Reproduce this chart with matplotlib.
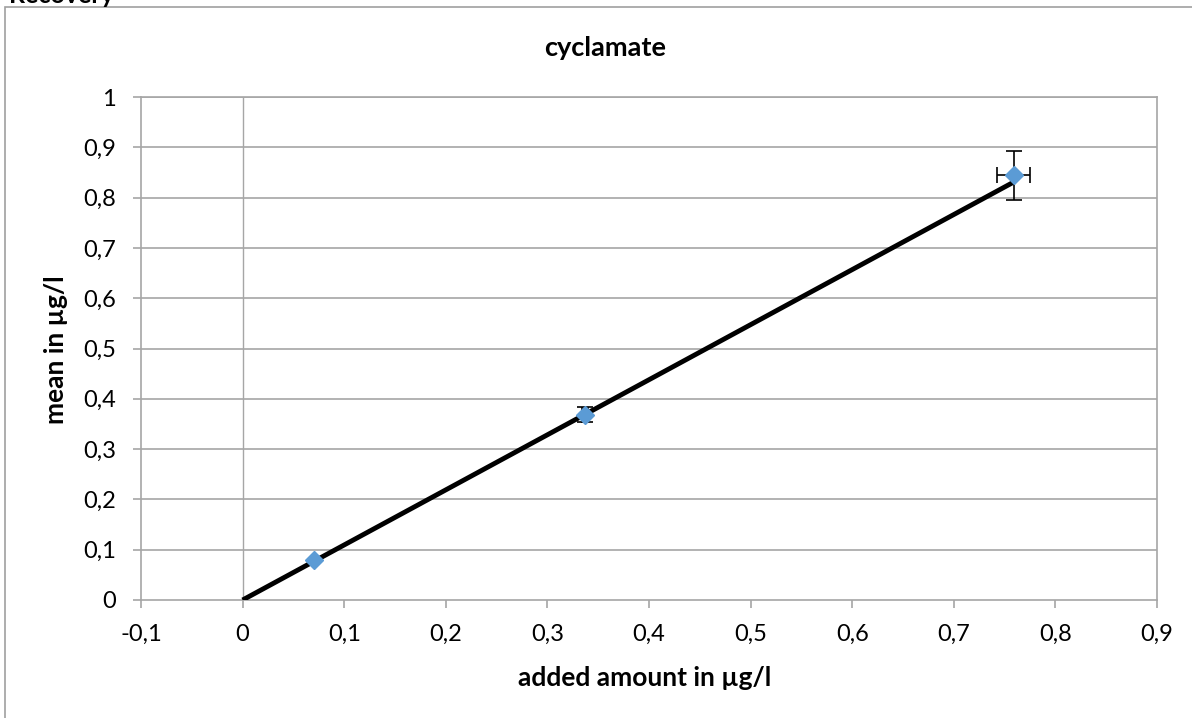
import matplotlib
matplotlib.use("Agg")
import matplotlib.pyplot as plt
from matplotlib.patches import Rectangle

plt.rcParams['font.family'] = ['Lato', 'DejaVu Sans']

# Data
added = [0.07, 0.337, 0.759]
mean = [0.079, 0.368, 0.844]
xerr = [0.0, 0.003, 0.016]
yerr = [0.0, 0.015, 0.048]
fit_x = [0.0, 0.76]
fit_y = [0.0, 0.832]
xticks = [-0.1, 0, 0.1, 0.2, 0.3, 0.4, 0.5, 0.6, 0.7, 0.8, 0.9]
yticks = [0, 0.1, 0.2, 0.3, 0.4, 0.5, 0.6, 0.7, 0.8, 0.9, 1]

def fmt(v):
    return ('%g' % v).replace('.', ',')

W, H = 1192, 718
fig = plt.figure(figsize=(W / 100, H / 100), dpi=100)

# outer chart border
fig.patches.append(Rectangle((5 / W, -0.1), 1.2, (H - 7) / H + 0.1, transform=fig.transFigure,
                             fill=False, edgecolor='#a0a0a0', linewidth=1.2))
fig.text(9 / W, 1 - 3 / H, 'Recovery', fontsize=18, fontweight='bold', va='baseline', ha='left')

ax = fig.add_axes([141 / W, (H - 600) / H, (1157 - 141) / W, (600 - 97) / H])
ax.set_xlim(-0.1, 0.9)
ax.set_ylim(0, 1)
ax.set_xticks(xticks)
ax.set_yticks(yticks)
ax.set_xticklabels([fmt(v) for v in xticks], fontsize=17)
ax.set_yticklabels([fmt(v) for v in yticks], fontsize=17)

for v in yticks[1:]:
    ax.axhline(v, color='#a6a6a6', linewidth=1.2, zorder=1)
ax.axvline(0, color='#a6a6a6', linewidth=1.0, zorder=1)

for s in ax.spines.values():
    s.set_color('#a6a6a6')
    s.set_linewidth(1.2)

ax.tick_params(axis='x', direction='out', length=6, color='#a6a6a6', width=1.2, pad=11)
ax.tick_params(axis='y', direction='out', length=6, color='#a6a6a6', width=1.2, pad=12)

ax.plot(fit_x, fit_y, color='black', linewidth=3.5, zorder=3, solid_capstyle='butt')
ax.errorbar(added, mean, xerr=xerr, yerr=yerr, fmt='none', ecolor='black',
            elinewidth=1.2, capsize=6, capthick=1.2, zorder=4)
ax.plot(added, mean, linestyle='none', marker='D', markersize=9, color='#5b9bd5',
        markeredgecolor='#5b9bd5', zorder=5)

fig.text(605 / W, 1 - 48 / H, 'cyclamate', fontsize=19.5, fontweight='bold',
         ha='center', va='center')
fig.text(645 / W, 1 - 678 / H, 'added amount in µg/l', fontsize=19, fontweight='bold',
         ha='center', va='center')
fig.text(56 / W, 1 - 350 / H, 'mean in µg/l', fontsize=19, fontweight='bold',
         ha='center', va='center', rotation=90)

fig.savefig('out.png', dpi=100)
